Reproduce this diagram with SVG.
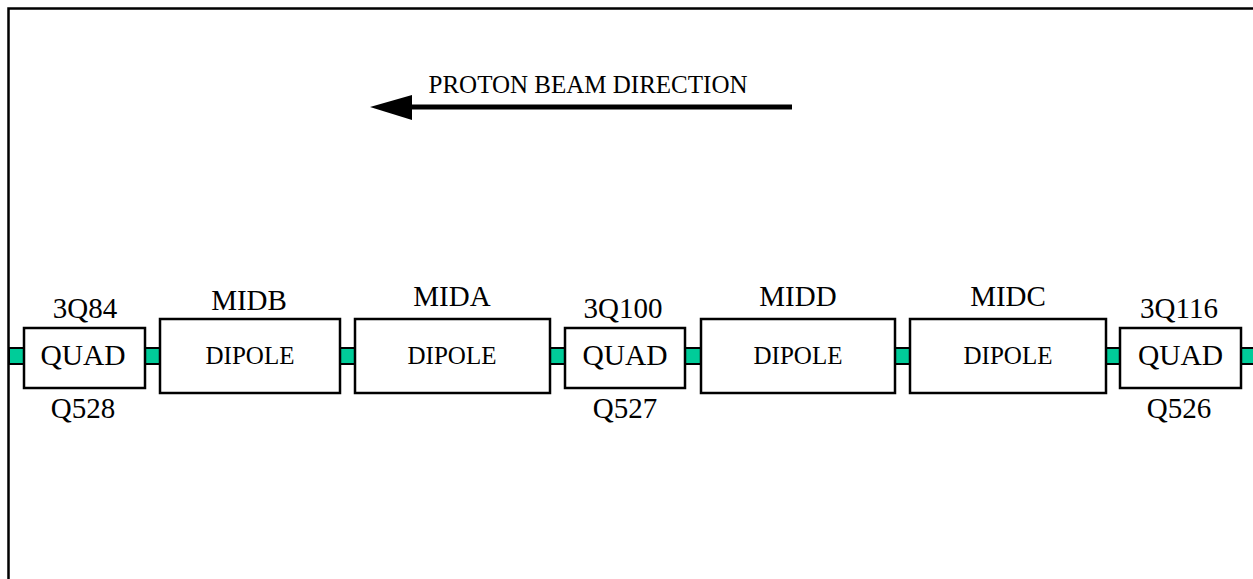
<svg xmlns="http://www.w3.org/2000/svg" width="1253" height="579" viewBox="0 0 1253 579">
<style>
.box{fill:#fff;stroke:#000;stroke-width:2.5}
.pipe{fill:#00cc99;stroke:#000;stroke-width:2}
text{font-family:"Liberation Serif","Times New Roman",serif;fill:#000;text-anchor:middle}
.lbl{font-size:29px}
.q{font-size:29.5px}
.d{font-size:25px}
</style>
<rect width="1253" height="579" fill="#fff"/>
<path d="M8.5,579 V8.5 H1253" fill="none" stroke="#000" stroke-width="2.5"/>
<g id="connectors">
<rect class="pipe" x="9" y="348" width="15" height="16"/>
<rect class="pipe" x="145" y="348" width="15" height="16"/>
<rect class="pipe" x="340" y="348" width="15" height="16"/>
<rect class="pipe" x="550" y="348" width="15" height="16"/>
<rect class="pipe" x="685" y="348" width="16" height="16"/>
<rect class="pipe" x="895" y="348" width="15" height="16"/>
<rect class="pipe" x="1106" y="348" width="14" height="16"/>
<rect class="pipe" x="1241" y="348" width="14" height="16"/>
</g>
<g id="beam-arrow">
<line x1="792" y1="107" x2="410" y2="107" stroke="#000" stroke-width="5"/>
<path d="M412,95 L370,107 L412,120 Z" fill="#000"/>
<text x="588" y="93" style="font-size:25px">PROTON BEAM DIRECTION</text>
</g>
<g id="quad-q528">
<rect class="box" x="24" y="328" width="121" height="60"/>
<text class="q" x="83" y="365">QUAD</text>
<text class="lbl" x="85" y="318">3Q84</text>
<text class="lbl" x="83" y="418">Q528</text>
</g>
<g id="dipole-midb">
<rect class="box" x="160" y="319" width="180" height="74"/>
<text class="d" x="250" y="364">DIPOLE</text>
<text class="lbl" x="249" y="310">MIDB</text>
</g>
<g id="dipole-mida">
<rect class="box" x="355" y="319" width="195" height="74"/>
<text class="d" x="452" y="364">DIPOLE</text>
<text class="lbl" x="452" y="306">MIDA</text>
</g>
<g id="quad-q527">
<rect class="box" x="565" y="328" width="120" height="60"/>
<text class="q" x="625" y="365">QUAD</text>
<text class="lbl" x="623" y="318">3Q100</text>
<text class="lbl" x="625" y="418">Q527</text>
</g>
<g id="dipole-midd">
<rect class="box" x="701" y="319" width="194" height="74"/>
<text class="d" x="798" y="364">DIPOLE</text>
<text class="lbl" x="798" y="306">MIDD</text>
</g>
<g id="dipole-midc">
<rect class="box" x="910" y="319" width="196" height="74"/>
<text class="d" x="1008" y="364">DIPOLE</text>
<text class="lbl" x="1008" y="306">MIDC</text>
</g>
<g id="quad-q526">
<rect class="box" x="1120" y="328" width="121" height="60"/>
<text class="q" x="1180.5" y="365">QUAD</text>
<text class="lbl" x="1179" y="318">3Q116</text>
<text class="lbl" x="1179" y="418">Q526</text>
</g>
</svg>
